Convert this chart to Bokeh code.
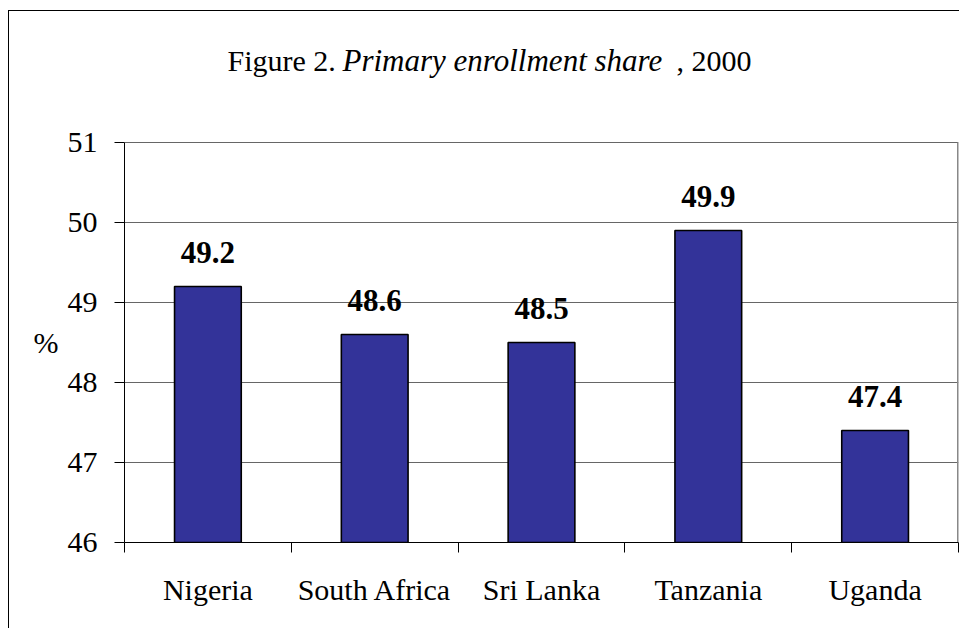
from bokeh.plotting import figure
from bokeh.models import ColumnDataSource, Range1d, FixedTicker, Label, LinearAxis
from bokeh.core.properties import value
from bokeh.embed import file_html
from bokeh.resources import INLINE

categories = ["Nigeria", "South Africa", "Sri Lanka", "Tanzania", "Uganda"]
values = [49.2, 48.6, 48.5, 49.9, 47.4]
y_ticks = [46, 47, 48, 49, 50, 51]
y_min, y_max = 46, 51
y_view_top = 52.5          # extra room above the axis for the title
title_y = 52.025
unit_label_y = 48.5

FONT = "Liberation Serif"
n = len(categories)

pos = [i + 0.5 for i in range(n)]
src = ColumnDataSource(dict(x=pos, top=values,
                            label=[f"{v:.1f}" for v in values]))

p = figure(width=951, height=618, output_backend="svg", toolbar_location=None,
           x_range=Range1d(0, n), y_range=Range1d(y_min, y_view_top),
           min_border_left=115, min_border_top=11, min_border_right=2,
           min_border_bottom=87)
p.title.visible = False
p.styles = {"margin-left": "8px", "margin-top": "10px",
            "border-left": "1px solid #000000", "border-top": "1px solid #000000"}

p.vbar(x="x", top="top", bottom=y_min, width=0.4, source=src,
       fill_color="#333399", line_color="black", line_width=1.6)

p.text(x="x", y="top", text="label", source=src, text_align="center",
       text_baseline="alphabetic", y_offset=-34,
       text_font=value(FONT), text_font_size="31px", text_font_style="bold",
       text_color="black")

# right edge of plot area
p.segment(x0=[n], y0=[y_min], x1=[n], y1=[y_max], line_color="#888888", line_width=3)

# x axis
p.xaxis.ticker = FixedTicker(ticks=pos, minor_ticks=list(range(n + 1)))
p.xaxis.major_label_overrides = {pp: c for pp, c in zip(pos, categories)}
p.xaxis.major_tick_line_color = None
p.xaxis.minor_tick_line_color = "black"
p.xaxis.minor_tick_out = 10
p.xaxis.minor_tick_in = 0
p.xaxis.major_label_standoff = 20
p.xaxis.major_label_text_font = FONT
p.xaxis.major_label_text_font_size = "30px"
p.xaxis.major_label_text_color = "black"
p.xaxis.axis_line_color = "black"

# y axis
yt = FixedTicker(ticks=y_ticks)
p.yaxis.ticker = yt
p.yaxis.bounds = (y_min, y_max)
p.yaxis.major_tick_out = 10
p.yaxis.major_tick_in = 0
p.yaxis.minor_tick_line_color = None
p.yaxis.major_label_standoff = 17
p.yaxis.major_label_text_font = FONT
p.yaxis.major_label_text_font_size = "30px"
p.yaxis.major_label_text_color = "black"
p.yaxis.axis_line_color = "black"
p.yaxis.major_tick_line_color = "black"

p.xgrid.grid_line_color = None
p.ygrid.ticker = yt
p.ygrid.grid_line_color = "#666666"
p.ygrid.grid_line_width = 1
p.outline_line_color = None

# "%" unit label as an outer left axis
unit_axis = LinearAxis(ticker=FixedTicker(ticks=[unit_label_y]),
                       major_label_overrides={unit_label_y: "%"},
                       axis_line_color=None, major_tick_line_color=None,
                       minor_tick_line_color=None, major_tick_out=0, major_tick_in=0,
                       minor_tick_out=0, minor_tick_in=0, major_label_standoff=6,
                       major_label_text_font=FONT, major_label_text_font_size="30px",
                       major_label_text_color="black")
p.add_layout(unit_axis, "left")

# title pieces (inside the frame, above the axis)
p.add_layout(Label(x=0.6175, y=title_y, text="Figure 2.", text_font=FONT,
                   text_font_size="30px", text_color="black",
                   text_baseline="alphabetic", text_align="left"))
p.add_layout(Label(x=1.307, y=title_y, text="Primary enrollment share", text_font=FONT,
                   text_font_size="31px", text_font_style="italic", text_color="black",
                   text_baseline="alphabetic", text_align="left"))
p.add_layout(Label(x=3.309, y=title_y, text=", 2000", text_font=FONT,
                   text_font_size="30px", text_color="black",
                   text_baseline="alphabetic", text_align="left"))

p.background_fill_color = "white"
p.border_fill_color = "white"

open("out.html", "w").write(file_html(p, INLINE))
